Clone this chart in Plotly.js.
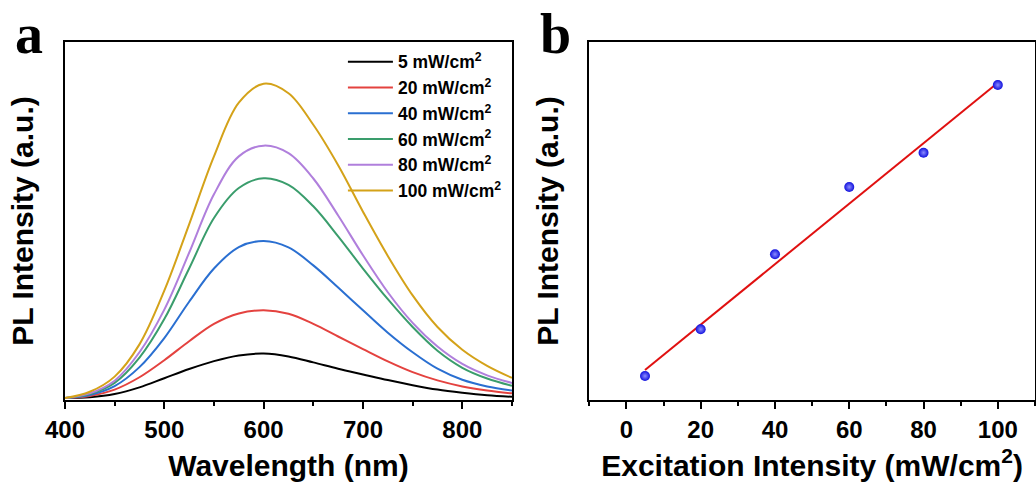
<!DOCTYPE html>
<html>
<head>
<meta charset="utf-8">
<script src="https://cdn.plot.ly/plotly-3.0.1.min.js"></script>
<style>
html,body{margin:0;padding:0;background:#fff;}
#chart{width:1036px;height:487px;}
</style>
</head>
<body>
<div id="chart"></div>
<script>
// ---- Panel a: PL spectra ----
const wavelength = [400,425,450,475,500,525,550,575,600,625,650,675,700,725,750,775,800,825,850];
const pl5   = [0.000,0.003,0.013,0.034,0.063,0.092,0.117,0.135,0.141,0.132,0.113,0.093,0.075,0.057,0.041,0.027,0.017,0.009,0.004];
const pl20  = [0.000,0.007,0.027,0.066,0.120,0.180,0.235,0.268,0.278,0.267,0.235,0.195,0.155,0.116,0.082,0.056,0.037,0.024,0.015];
const pl40  = [0.000,0.010,0.038,0.098,0.190,0.305,0.410,0.478,0.497,0.477,0.420,0.350,0.278,0.207,0.145,0.093,0.058,0.037,0.024];
const pl60  = [0.000,0.013,0.048,0.128,0.250,0.410,0.570,0.665,0.696,0.675,0.607,0.512,0.410,0.313,0.225,0.150,0.096,0.062,0.039];
const pl80  = [0.000,0.015,0.055,0.145,0.280,0.460,0.645,0.765,0.799,0.775,0.695,0.578,0.452,0.335,0.238,0.163,0.108,0.072,0.048];
const pl100 = [0.000,0.020,0.068,0.170,0.340,0.550,0.765,0.935,0.995,0.965,0.865,0.737,0.590,0.450,0.325,0.225,0.153,0.102,0.064];
const seriesNames = ['5 mW/cm<sup>2</sup>','20 mW/cm<sup>2</sup>','40 mW/cm<sup>2</sup>','60 mW/cm<sup>2</sup>','80 mW/cm<sup>2</sup>','100 mW/cm<sup>2</sup>'];
const seriesColors = ['#000000','#e4423f','#2a6fd1','#3a9d6c','#b07fdc','#d4a219'];
const spectra = [pl5, pl20, pl40, pl60, pl80, pl100];

// ---- Panel b: PL intensity vs excitation ----
const excitation = [5, 20, 40, 60, 80, 100];
const plIntensity = [24, 70.7, 145.7, 213, 247.3, 315];
const fitX = [5, 100];
const fitY = [30, 317.3];

const FONT = 'Arial, "Liberation Sans", sans-serif';
const traces = [];
spectra.forEach((s, i) => {
  traces.push({
    x: wavelength, y: s, type: 'scatter', mode: 'lines',
    name: seriesNames[i],
    line: {color: seriesColors[i], width: 2, shape: 'spline', smoothing: 1},
    xaxis: 'x', yaxis: 'y'
  });
});
traces.push({
  x: fitX, y: fitY, type: 'scatter', mode: 'lines', showlegend: false,
  line: {color: '#e01010', width: 2}, xaxis: 'x2', yaxis: 'y2'
});
traces.push({
  x: excitation, y: plIntensity, type: 'scatter', mode: 'markers', showlegend: false,
  marker: {color: '#1010dd', size: 10, gradient: {type: 'radial', color: '#8c8cff'}, line: {width: 0}},
  xaxis: 'x2', yaxis: 'y2'
});

const axisCommon = {
  showline: true, mirror: true, linecolor: '#000', linewidth: 2,
  showgrid: false, zeroline: false
};
const titleFont = {family: FONT, size: 30, color: '#000', weight: 700};
const tickFont = {family: FONT, size: 24, color: '#000', weight: 700};
const labelFont = {family: '"Liberation Serif", "Times New Roman", serif', size: 56, color: '#000', weight: 700};

const layout = {
  width: 1036, height: 487,
  margin: {l: 0, r: 0, t: 42, b: 87},
  paper_bgcolor: '#fff', plot_bgcolor: '#fff',
  font: {family: FONT, color: '#000', weight: 700},
  showlegend: true,
  legend: {
    x: 0.331, y: 0.995, xanchor: 'left', yanchor: 'top',
    bgcolor: 'rgba(0,0,0,0)', borderwidth: 0,
    font: {family: FONT, size: 17.5, color: '#000', weight: 700},
    itemwidth: 45,
    tracegroupgap: 0
  },
  xaxis: Object.assign({}, axisCommon, {
    domain: [0.0627, 0.4942], range: [400, 850],
    ticks: 'outside', ticklen: 7, tickwidth: 2, tickcolor: '#000',
    tickvals: [400, 500, 600, 700, 800],
    minor: {tickvals: [450, 550, 650, 750, 850], ticks: 'outside', ticklen: 4, tickwidth: 2, tickcolor: '#000'},
    tickfont: tickFont,
    title: {text: 'Wavelength (nm)', font: titleFont, standoff: 13}
  }),
  yaxis: Object.assign({}, axisCommon, {
    domain: [0, 1], range: [-0.006, 1.127],
    showticklabels: false, ticks: '',
    title: {text: 'PL Intensity (a.u.)', font: titleFont, standoff: 20}
  }),
  xaxis2: Object.assign({}, axisCommon, {
    domain: [0.5688, 0.999], range: [-10, 110], anchor: 'y2',
    ticks: 'outside', ticklen: 7, tickwidth: 2, tickcolor: '#000',
    tickvals: [0, 20, 40, 60, 80, 100],
    minor: {tickvals: [-10, 10, 30, 50, 70, 90, 110], ticks: 'outside', ticklen: 4, tickwidth: 2, tickcolor: '#000'},
    tickfont: tickFont,
    title: {text: 'Excitation Intensity (mW/cm<sup>2</sup>)', font: titleFont, standoff: 13}
  }),
  yaxis2: Object.assign({}, axisCommon, {
    domain: [0, 1], range: [0, 358], anchor: 'x2',
    showticklabels: false, ticks: '',
    title: {text: 'PL Intensity (a.u.)', font: titleFont, standoff: 20}
  }),
  annotations: [
    {text: 'a', xref: 'paper', yref: 'paper', x: 0.028, y: 1.115, xanchor: 'center', yanchor: 'top', showarrow: false, font: labelFont},
    {text: 'b', xref: 'paper', yref: 'paper', x: 0.536, y: 1.115, xanchor: 'center', yanchor: 'top', showarrow: false, font: labelFont}
  ]
};

Plotly.newPlot('chart', traces, layout, {displayModeBar: false, staticPlot: true});
</script>
</body>
</html>
